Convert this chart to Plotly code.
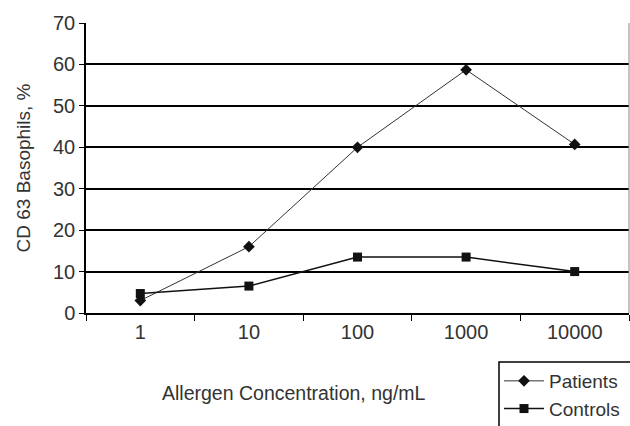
import plotly.graph_objects as go

concentrations = ["1", "10", "100", "1000", "10000"]
patients = [3.0, 16.0, 40.0, 58.7, 40.7]
controls = [4.7, 6.5, 13.5, 13.5, 10.0]
y_ticks = [0, 10, 20, 30, 40, 50, 60, 70]
series_names = ["Patients", "Controls"]

FONT = "Liberation Sans, Arial, sans-serif"
TXT = "#333333"

LEG_X = (499 - 86) / 543
LEG_Y = -49 / 290

fig = go.Figure()
fig.add_trace(go.Scatter(
    x=concentrations, y=patients, name=series_names[0], mode="lines+markers",
    line=dict(color="#333333", width=1),
    marker=dict(symbol="diamond", size=9, color="#111111"),
))
fig.add_trace(go.Scatter(
    x=concentrations, y=controls, name=series_names[1], mode="lines+markers",
    line=dict(color="#111111", width=1.5),
    marker=dict(symbol="square", size=9, color="#111111"),
))

fig.update_layout(
    width=630, height=426,
    margin=dict(l=86, r=1, t=23, b=113, autoexpand=False),
    paper_bgcolor="white", plot_bgcolor="white",
    font=dict(family=FONT, size=20, color=TXT),
    showlegend=True,
    legend=dict(
        x=LEG_X, y=LEG_Y, xanchor="left", yanchor="top",
        borderwidth=0, bgcolor="rgba(0,0,0,0)",
        font=dict(size=19, color=TXT),
        tracegroupgap=0, itemwidth=40,
    ),
    xaxis=dict(
        type="category", tickson="boundaries", ticks="outside", ticklen=6,
        tickcolor="#000000", showline=True, linecolor="#000000", linewidth=1.5,
        showgrid=False, range=[-0.5, 4.5], zeroline=False, automargin=False,
        tickfont=dict(size=20, color=TXT),
    ),
    yaxis=dict(
        range=[0, 70], tickvals=y_ticks, ticks="outside", ticklen=5,
        tickcolor="#000000", showline=True, linecolor="#000000", linewidth=1.5,
        showgrid=True, gridcolor="#000000", gridwidth=1.5, zeroline=False,
        automargin=False,
        tickfont=dict(size=20, color=TXT),
        title=dict(text="CD 63 Basophils, %", font=dict(size=19, color=TXT), standoff=17),
    ),
)

# right border of the plot area
fig.add_shape(type="line", xref="paper", yref="paper", x0=1, x1=1, y0=0, y1=1,
              line=dict(color="#888888", width=1))
# legend frame, running off the right and bottom edges as in the reference
fig.add_shape(type="rect", xref="paper", yref="paper", x0=LEG_X, x1=1.1,
              y0=LEG_Y, y1=-0.6, line=dict(color="#000000", width=1.5),
              fillcolor="rgba(0,0,0,0)", layer="below")

fig.add_annotation(text="Allergen Concentration, ng/mL", xref="paper", yref="paper",
                   x=(294 - 86) / 543, y=-80 / 290, xanchor="center", yanchor="middle",
                   showarrow=False, font=dict(size=19.5, color=TXT))

fig.write_html("out.html", config={"displayModeBar": False},
               post_script="document.body.style.margin='0px';document.body.style.overflow='hidden';")
